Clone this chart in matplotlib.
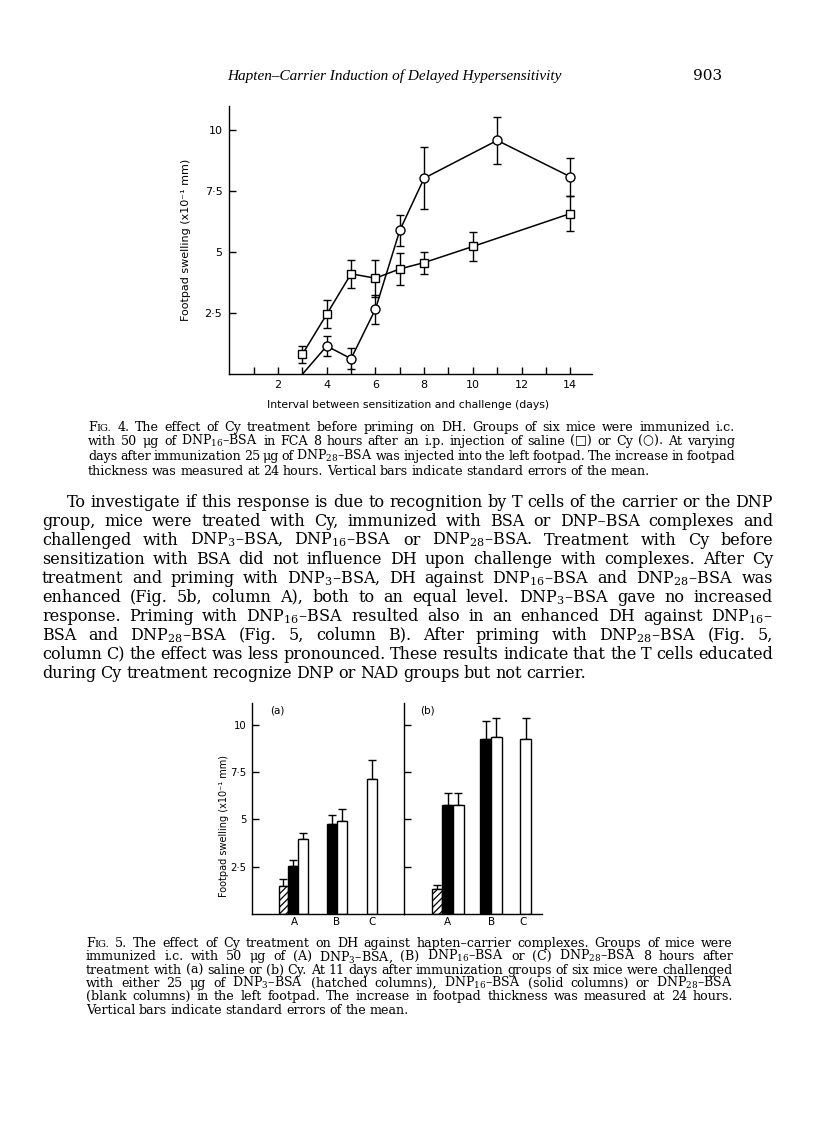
import numpy as np
import matplotlib
matplotlib.use('Agg')
import matplotlib.pyplot as plt

W, H = 816, 1127
DPI = 100
SERIF = ['DejaVu Serif']
SANS = ['DejaVu Sans']

plt.rcParams['mathtext.fontset'] = 'custom'
plt.rcParams['mathtext.rm'] = 'DejaVu Serif'
plt.rcParams['mathtext.it'] = 'DejaVu Serif:italic'
plt.rcParams['mathtext.bf'] = 'DejaVu Serif:bold'
plt.rcParams['hatch.linewidth'] = 0.9

# ---------------- data: Fig. 4 ----------------
days_saline = [3, 4, 5, 6, 7, 8, 10, 14]
saline_mean = [0.82, 2.46, 4.12, 3.94, 4.32, 4.58, 5.24, 6.59]
saline_err = [0.35, 0.57, 0.57, 0.76, 0.65, 0.45, 0.58, 0.70]

days_cy = [3, 4, 5, 6, 7, 8, 11, 14]
cy_mean = [0.0, 1.16, 0.64, 2.67, 5.90, 8.04, 9.59, 8.10]
cy_err = [0.0, 0.40, 0.42, 0.60, 0.65, 1.28, 0.97, 0.78]

x_ticks = list(range(1, 15))
x_ticklabels = ['', '2', '', '4', '', '6', '', '8', '', '10', '', '12', '', '14']
y_ticks = [2.5, 5, 7.5, 10]
y_ticklabels = ['2·5', '5', '7·5', '10']

# ---------------- data: Fig. 5 ----------------
groups = ['A', 'B', 'C']
nan = np.nan
# (a) saline
a_hatched = [1.50, nan, nan]
a_hatched_err = [0.33, nan, nan]
a_solid = [2.54, 4.75, nan]
a_solid_err = [0.33, 0.50, nan]
a_blank = [3.94, 4.89, 7.15]
a_blank_err = [0.32, 0.64, 0.98]
# (b) Cy
b_hatched = [1.32, nan, nan]
b_hatched_err = [0.21, nan, nan]
b_solid = [5.77, 9.24, nan]
b_solid_err = [0.60, 0.94, nan]
b_blank = [5.77, 9.35, 9.23]
b_blank_err = [0.60, 1.00, 1.14]

# ---------------- text ----------------
header = 'Hapten–Carrier Induction of Delayed Hypersensitivity'
page_no = '903'

cap4 = [
    'FIG. 4. The effect of Cy treatment before priming on DH. Groups of six mice were immunized i.c.',
    'with 50 μg of DNP$_{16}$–BSA in FCA 8 hours after an i.p. injection of saline (□) or Cy (○). At varying',
    'days after immunization 25 μg of DNP$_{28}$–BSA was injected into the left footpad. The increase in footpad',
    'thickness was measured at 24 hours. Vertical bars indicate standard errors of the mean.',
]

para = [
    'To investigate if this response is due to recognition by T cells of the carrier or the DNP',
    'group, mice were treated with Cy, immunized with BSA or DNP–BSA complexes and',
    'challenged with DNP$_{3}$–BSA, DNP$_{16}$–BSA or DNP$_{28}$–BSA. Treatment with Cy before',
    'sensitization with BSA did not influence DH upon challenge with complexes. After Cy',
    'treatment and priming with DNP$_{3}$–BSA, DH against DNP$_{16}$–BSA and DNP$_{28}$–BSA was',
    'enhanced (Fig. 5b, column A), both to an equal level. DNP$_{3}$–BSA gave no increased',
    'response. Priming with DNP$_{16}$–BSA resulted also in an enhanced DH against DNP$_{16}$–',
    'BSA and DNP$_{28}$–BSA (Fig. 5, column B). After priming with DNP$_{28}$–BSA (Fig. 5,',
    'column C) the effect was less pronounced. These results indicate that the T cells educated',
    'during Cy treatment recognize DNP or NAD groups but not carrier.',
]

cap5 = [
    'FIG. 5. The effect of Cy treatment on DH against hapten–carrier complexes. Groups of mice were',
    'immunized i.c. with 50 μg of (A) DNP$_{3}$–BSA, (B) DNP$_{16}$–BSA or (C) DNP$_{28}$–BSA 8 hours after',
    'treatment with (a) saline or (b) Cy. At 11 days after immunization groups of six mice were challenged',
    'with either 25 μg of DNP$_{3}$–BSA (hatched columns), DNP$_{16}$–BSA (solid columns) or DNP$_{28}$–BSA',
    '(blank columns) in the left footpad. The increase in footpad thickness was measured at 24 hours.',
    'Vertical bars indicate standard errors of the mean.',
]

ylabel = 'Footpad swelling (x10⁻¹ mm)'
xlabel = 'Interval between sensitization and challenge (days)'

# ---------------- figure ----------------
fig = plt.figure(figsize=(W / DPI, H / DPI), dpi=DPI)
fig.patch.set_facecolor('white')
renderer = fig.canvas.get_renderer()


def axes_px(l, t, r, b):
    return fig.add_axes([l / W, 1 - b / H, (r - l) / W, (b - t) / H])


def make_word(w, size, style):
    if w == 'FIG.':
        parts = [('F', size), ('IG.', size * 0.78)]
    else:
        parts = [(w, size)]
    arts = [fig.text(0, 0, s, fontsize=sz, family=SERIF, style=style,
                     ha='left', va='baseline') for s, sz in parts]
    widths = [t.get_window_extent(renderer).width for t in arts]
    return arts, widths


def text_line(line, x0, x1, y, size, justify=True, style='normal'):
    items = [make_word(w, size, style) for w in line.split(' ')]
    tot = sum(sum(ws) for _, ws in items)
    nat = 0.28 * size * DPI / 72
    if justify and len(items) > 1:
        gap = (x1 - x0 - tot) / (len(items) - 1)
    else:
        gap = nat
    x = x0
    for arts, ws in items:
        for t, w in zip(arts, ws):
            t.set_position((x / W, 1 - y / H))
            x += w
        x += gap


# header
fig.text(562 / W, 1 - 80 / H, header, fontsize=11,
         family=['Liberation Serif', 'DejaVu Serif'], style='italic',
         ha='right', va='baseline')
fig.text(722 / W, 1 - 80 / H, page_no, fontsize=11, family=SERIF,
         ha='right', va='baseline')

# ---------------- Fig. 4 chart ----------------
ax = axes_px(229.3, 106, 591.7, 374.3)
ax.set_xlim(0, 14.88)
ax.set_ylim(0, 11.0)
for s in ['top', 'right']:
    ax.spines[s].set_visible(False)
for s in ['left', 'bottom']:
    ax.spines[s].set_linewidth(1.0)
ax.set_xticks(x_ticks)
ax.set_xticklabels(x_ticklabels, family=SANS, fontsize=8)
ax.set_yticks(y_ticks)
ax.set_yticklabels(y_ticklabels, family=SANS, fontsize=8)
ax.tick_params(axis='both', direction='in', length=5, width=1.0)
ax.tick_params(axis='x', pad=4)
ax.tick_params(axis='y', pad=5)
ax.set_facecolor('none')

ax.errorbar(days_saline, saline_mean, yerr=saline_err, fmt='none', ecolor='black',
            elinewidth=1.0, capsize=3, capthick=1.0, zorder=2)
ax.plot(days_saline, saline_mean, color='black', lw=1.1, marker='s', ms=5.5,
        mfc='white', mec='black', mew=1.0, zorder=3)
ax.errorbar(days_cy[1:], cy_mean[1:], yerr=cy_err[1:], fmt='none', ecolor='black',
            elinewidth=1.0, capsize=3, capthick=1.0, zorder=2)
ax.plot(days_cy, cy_mean, color='black', lw=1.1, marker='o', ms=6.5,
        mfc='white', mec='black', mew=1.0, zorder=3,
        markevery=list(range(1, len(days_cy))))

fig.text(185.7 / W, 1 - 240 / H, ylabel, rotation=90, fontsize=8, family=SANS,
         ha='center', va='center')
fig.text(408 / W, 1 - 405 / H, xlabel, fontsize=7.8, family=SANS,
         ha='center', va='center')

# captions & paragraph
for i, line in enumerate(cap4):
    text_line(line, 88, 735, 430.6 + 14.7 * i, 9.1, justify=(i < len(cap4) - 1))

for i, line in enumerate(para):
    x0 = 67 if i == 0 else 42
    text_line(line, x0, 773, 506.7 + 19.05 * i, 11.5, justify=(i < len(para) - 1))

for i, line in enumerate(cap5):
    text_line(line, 86, 733, 947 + 13.34 * i, 9.1, justify=(i < len(cap5) - 1))

# ---------------- Fig. 5 chart ----------------
YTOP = 11.15
panels = [
    dict(box=(252, 703, 404, 914), xmax=15.51, centers=[4.21, 8.16, 11.22],
         labels=[4.29, 8.67, 12.24], tag='(a)',
         hatched=(a_hatched, a_hatched_err), solid=(a_solid, a_solid_err),
         blank=(a_blank, a_blank_err)),
    dict(box=(404, 703, 541.7, 914), xmax=12.87, centers=[4.08, 7.64, 10.36],
         labels=[4.08, 8.2, 11.15], tag='(b)',
         hatched=(b_hatched, b_hatched_err), solid=(b_solid, b_solid_err),
         blank=(b_blank, b_blank_err)),
]

for k, p in enumerate(panels):
    a = axes_px(*p['box'])
    a.set_xlim(0, p['xmax'])
    a.set_ylim(0, YTOP)
    a.set_facecolor('none')
    for s in ['top', 'right']:
        a.spines[s].set_visible(False)
    for s in ['left', 'bottom']:
        a.spines[s].set_linewidth(1.0)
    a.set_xticks([])
    a.set_yticks(y_ticks)
    if k == 0:
        a.set_yticklabels(y_ticklabels, family=SANS, fontsize=7.3)
    else:
        a.set_yticklabels([])
    a.tick_params(axis='y', direction='in', length=5, width=1.0, pad=4)
    c = np.array(p['centers'])
    styles = [('hatched', -1, 'white', '/////'), ('solid', 0, 'black', None),
              ('blank', 1, 'white', None)]
    for key, off, fc, hatch in styles:
        vals, errs = p[key]
        vals = np.array(vals, dtype=float)
        errs = np.array(errs, dtype=float)
        m = ~np.isnan(vals)
        a.bar(c[m] + off, vals[m], width=1.0, color=fc, edgecolor='black',
              linewidth=1.0, hatch=hatch, zorder=2)
        a.errorbar(c[m] + off, vals[m], yerr=[np.zeros(m.sum()), errs[m]], fmt='none',
                   ecolor='black', elinewidth=1.0, capsize=2.8, capthick=1.0, zorder=1)
    for g, lx in zip(groups, p['labels']):
        a.text(lx, -0.42, g, fontsize=7.5, family=SANS, ha='center', va='center',
               clip_on=False)
    a.text(0.12, 1.0 - (710.7 - 703) / 211, p['tag'], transform=a.transAxes,
           fontsize=7.5, family=SANS, ha='left', va='center')

fig.text(224.3 / W, 1 - 826 / H, ylabel, rotation=90, fontsize=7, family=SANS,
         ha='center', va='center')

fig.savefig('out.png', dpi=DPI, facecolor='white')
